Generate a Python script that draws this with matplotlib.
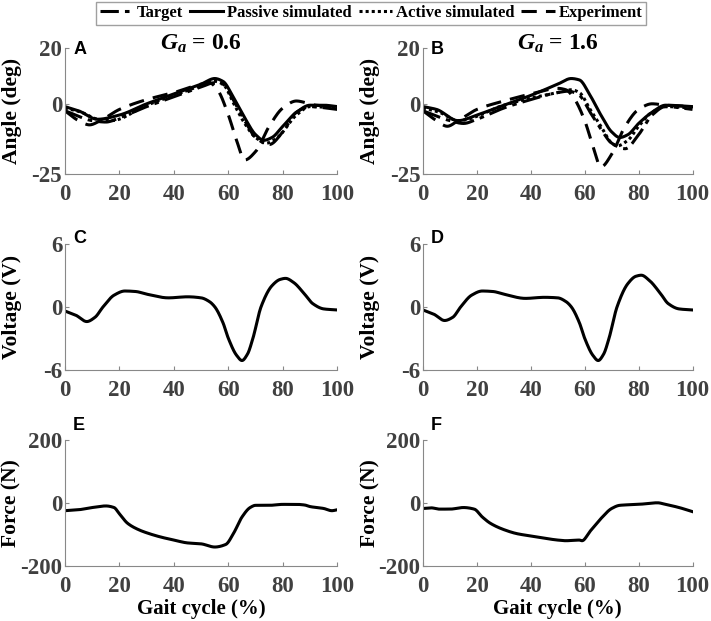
import numpy as np
import matplotlib
matplotlib.use('Agg')
import matplotlib.pyplot as plt

plt.rcParams['font.family'] = 'Liberation Serif'
plt.rcParams['font.weight'] = 'bold'
plt.rcParams['mathtext.fontset'] = 'custom'
plt.rcParams['mathtext.rm'] = 'Liberation Serif:bold'
plt.rcParams['mathtext.it'] = 'Liberation Serif:italic:bold'
plt.rcParams['axes.unicode_minus'] = False

# ---- angle data (gait cycle %, deg) ----
# panel A, Ga = 0.6
a_pass_x = [0, 5, 12, 20, 30, 40, 50, 55, 58, 62, 66, 70, 73, 76, 80, 85, 90, 95, 100]
a_pass_y = [-1, -2.5, -5.5, -4, 0, 3.5, 7, 9, 8, 2, -5, -11, -13, -12, -8, -3, -0.5, -0.5, -1]
a_act_x = [0, 6, 12, 17, 30, 40, 50, 55, 58, 62, 66, 70, 74, 78, 85, 90, 100]
a_act_y = [-1.5, -3, -5.5, -6, -0.5, 3, 6.5, 8, 7, 0, -7, -12, -14, -12, -4, -1, -1.5]
a_tgt_x = [0, 10, 15, 20, 30, 40, 50, 55, 58, 62, 66, 70, 75, 80, 85, 90, 100]
a_tgt_y = [-2.5, -6, -6.5, -5, -1, 2.5, 6, 7.5, 7, 1, -6, -12, -14.5, -10, -3, -1, -2]
a_exp_x = [0, 5, 9, 13, 20, 30, 40, 50, 53, 56, 60, 63, 66, 70, 75, 80, 85, 88, 92, 100]
a_exp_y = [-2.5, -6, -7.5, -6, -2, 1.5, 4, 7, 7.5, 5, -4, -13, -20, -17, -8, -1.5, 1, 0.5, -0.5, -1]

# panel B, Ga = 1.6
b_pass_x = [0, 5, 13, 20, 30, 40, 50, 55, 58, 62, 66, 70, 73, 76, 80, 85, 90, 100]
b_pass_y = [-1, -2, -6, -4, -0.5, 3, 7, 9, 8.5, 3, -4, -10, -12, -11, -7, -3, -0.5, -1]
b_act_x = [0, 6, 13, 30, 40, 50, 55, 58, 62, 66, 70, 72, 76, 80, 85, 90, 100]
b_act_y = [-1.5, -3, -6, -0.5, 2, 4, 5, 4, -2, -8, -14, -15, -13, -8, -3, -1, -1.5]
b_tgt_x = [0, 10, 15, 20, 30, 40, 50, 54, 58, 62, 66, 70, 75, 80, 85, 90, 100]
b_tgt_y = [-2.5, -6, -7, -5.5, -1.5, 1.5, 4, 4.5, 3, -3, -9, -14, -16, -11, -4, -1, -2]
b_exp_x = [0, 5, 9, 13, 20, 30, 40, 50, 53, 56, 60, 63, 66, 70, 75, 80, 85, 90, 100]
b_exp_y = [-2.5, -6, -8, -6, -2, 1, 3.5, 5.5, 5, 2, -6, -15, -22.5, -18, -8, -2, 0, -0.5, -1]

# ---- voltage (V) ----
c_x = [0, 4, 8, 11, 14, 18, 22, 26, 30, 38, 45, 50, 53, 55, 58, 60, 63, 65, 67, 69, 72, 76, 79, 81, 84, 88, 91, 95, 100]
c_y = [-0.4, -0.8, -1.4, -1.0, 0.0, 1.1, 1.5, 1.45, 1.2, 0.85, 0.95, 0.85, 0.5, 0, -1.5, -3, -4.6, -5.1, -4.5, -3, 0, 2, 2.6, 2.7, 2.3, 1.2, 0.3, -0.2, -0.3]
d_x = [0, 4, 8, 11, 14, 18, 22, 26, 30, 38, 45, 50, 53, 55, 58, 60, 63, 65, 67, 69, 72, 76, 79, 81, 84, 88, 91, 95, 100]
d_y = [-0.3, -0.7, -1.3, -1.0, 0.0, 1.1, 1.5, 1.45, 1.2, 0.8, 0.9, 0.85, 0.5, 0, -1.5, -3, -4.6, -5.1, -4.5, -3, 0, 2.2, 2.9, 3.0, 2.5, 1.3, 0.3, -0.2, -0.3]

# ---- force (N) ----
e_x = [0, 5, 10, 15, 18, 20, 23, 27, 30, 35, 40, 45, 50, 55, 59, 62, 65, 68, 70, 75, 80, 85, 88, 90, 95, 98, 100]
e_y = [-25, -22, -15, -10, -15, -35, -65, -85, -95, -108, -118, -127, -130, -140, -132, -95, -45, -15, -8, -8, -5, -5, -7, -12, -18, -25, -22]
f_x = [0, 3, 6, 10, 15, 19, 22, 25, 30, 35, 40, 45, 50, 53, 58, 59, 62, 66, 70, 73, 80, 87, 90, 95, 100]
f_y = [-18, -16, -20, -20, -15, -20, -45, -65, -85, -98, -105, -112, -118, -120, -118, -120, -90, -50, -18, -8, -5, 0, -5, -15, -28]

x_ticks = [0, 20, 40, 60, 80, 100]
legend_labels = ['Target', 'Passive simulated', 'Active simulated', 'Experiment']


def smooth(xs, ys):
    # shape preserving cubic hermite (pchip style) through the read points
    xs = np.asarray(xs, float)
    ys = np.asarray(ys, float)
    h = np.diff(xs)
    d = np.diff(ys) / h
    m = np.zeros_like(ys)
    for k in range(1, len(xs) - 1):
        if d[k - 1] * d[k] > 0:
            w1 = 2 * h[k] + h[k - 1]
            w2 = h[k] + 2 * h[k - 1]
            m[k] = (w1 + w2) / (w1 / d[k - 1] + w2 / d[k])
    m[0] = d[0]
    m[-1] = d[-1]
    xx = np.linspace(xs[0], xs[-1], 801)
    i = np.clip(np.searchsorted(xs, xx, side='right') - 1, 0, len(xs) - 2)
    t = (xx - xs[i]) / h[i]
    h00 = 2 * t**3 - 3 * t**2 + 1
    h10 = t**3 - 2 * t**2 + t
    h01 = -2 * t**3 + 3 * t**2
    h11 = t**3 - t**2
    yy = h00 * ys[i] + h10 * h[i] * m[i] + h01 * ys[i + 1] + h11 * h[i] * m[i + 1]
    return xx, yy


def style_axes(ax, ylim, ylabel, letter, letter_y):
    ax.set_xlim(0, 100)
    ax.set_ylim(*ylim)
    ax.set_xticks(x_ticks)
    ax.set_yticks([ylim[0], 0, ylim[1]])
    for s in ['top', 'right']:
        ax.spines[s].set_visible(False)
    for s in ['left', 'bottom']:
        ax.spines[s].set_color('#888888')
        ax.spines[s].set_linewidth(0.8)
    ax.tick_params(direction='in', length=3, width=0.8, color='#888888',
                   labelsize=16.5, labelcolor='#404040')
    ax.tick_params(axis='x', pad=7)
    ax.tick_params(axis='y', pad=2)
    ax.set_ylabel(ylabel, fontsize=15.5, fontweight='bold')
    ax.yaxis.set_label_coords(-0.158, 0.5)
    ax.text(0.03, letter_y, letter, transform=ax.transAxes, fontsize=13,
            fontweight='bold', family='Liberation Sans', va='center', ha='left')


fig = plt.figure(figsize=(7.11, 6.21), dpi=100)
lefts = [0.0914, 0.595]
widths = [0.383, 0.379]
bottoms = [0.7198, 0.4042, 0.0886]
height = 0.2035

lw = 2.2
angle_sets = [
    (a_tgt_x, a_tgt_y, a_pass_x, a_pass_y, a_act_x, a_act_y, a_exp_x, a_exp_y),
    (b_tgt_x, b_tgt_y, b_pass_x, b_pass_y, b_act_x, b_act_y, b_exp_x, b_exp_y),
]
titles = [r'$G_a$ = 0.6', r'$G_a$ = 1.6']
letters = [['A', 'C', 'E'], ['B', 'D', 'F']]
volt = [(c_x, c_y), (d_x, d_y)]
force = [(e_x, e_y), (f_x, f_y)]

handles = None
for col in range(2):
    tx, ty, px, py, ax_, ay, ex, ey = angle_sets[col]
    width = widths[col]
    ax = fig.add_axes([lefts[col], bottoms[0], width, height])
    h1, = ax.plot(*smooth(tx, ty), color='black', lw=lw, ls=(0, (6, 2, 1.5, 2)))
    h2, = ax.plot(*smooth(px, py), color='black', lw=lw, ls='-')
    h3, = ax.plot(*smooth(ax_, ay), color='black', lw=lw, ls=(0, (1, 1)))
    h4, = ax.plot(*smooth(ex, ey), color='black', lw=lw, ls=(0, (5, 3)))
    handles = [h1, h2, h3, h4]
    style_axes(ax, (-25, 20), 'Angle (deg)', letters[col][0], 0.985)
    ax.text(0.5, 1.03, titles[col], transform=ax.transAxes, fontsize=17,
            ha='center', va='center')

    ax = fig.add_axes([lefts[col], bottoms[1], width, height])
    ax.plot(*smooth(*volt[col]), color='black', lw=lw)
    style_axes(ax, (-6, 6), 'Voltage (V)', letters[col][1], 1.04)

    ax = fig.add_axes([lefts[col], bottoms[2], width, height])
    ax.plot(*smooth(*force[col]), color='black', lw=lw)
    style_axes(ax, (-200, 200), 'Force (N)', letters[col][2], 1.11)
    ax.set_xlabel('Gait cycle (%)', fontsize=15, fontweight='bold')
    ax.xaxis.set_label_coords(0.5, -0.265)

leg = fig.legend(handles, legend_labels,
                 loc='upper center', bbox_to_anchor=(0.522, 0.997), ncol=4,
                 fontsize=12, frameon=True, fancybox=False, handlelength=2.0,
                 handletextpad=0.25, columnspacing=0.4, borderpad=0.2,
                 borderaxespad=0.0)
leg.get_frame().set_edgecolor('#888888')
leg.get_frame().set_linewidth(1.0)

fig.savefig('out.png', dpi=100)
